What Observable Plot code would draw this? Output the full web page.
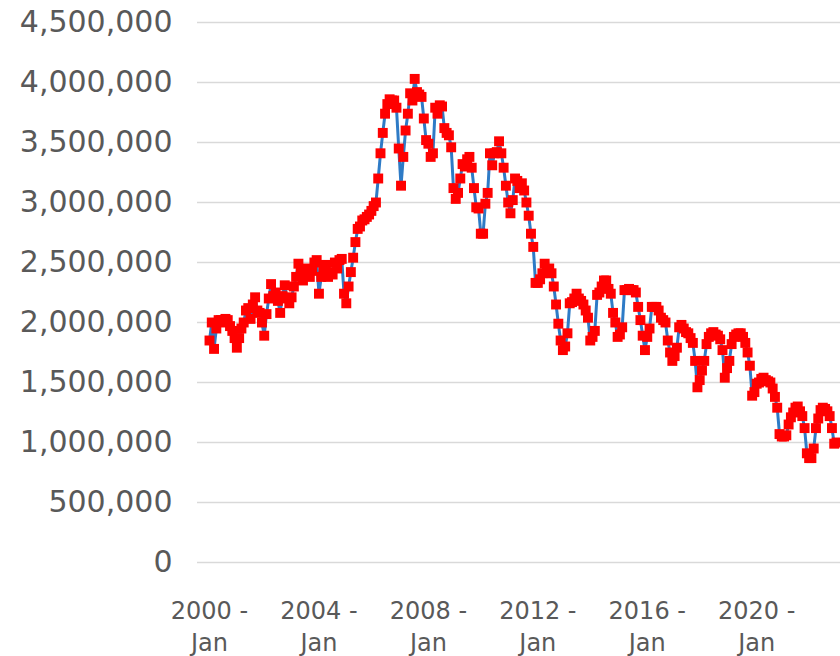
<!DOCTYPE html>
<html>
<head>
<meta charset="utf-8">
<script src="https://cdn.jsdelivr.net/npm/d3@7"></script>
<script src="https://cdn.jsdelivr.net/npm/@observablehq/plot@0.6"></script>
<style>
  html, body { margin: 0; padding: 0; background: #ffffff; }
</style>
</head>
<body>
<div id="chart"></div>
<script>
const startYear = 2000;
const xTickMonths = [0, 48, 96, 144, 192, 240];
const xTickMonthName = "Jan";
const yTicks = [0, 500000, 1000000, 1500000, 2000000, 2500000, 3000000, 3500000, 4000000, 4500000];

// Monthly values, Jan 2000 .. Dec 2022
const values = [
  // 2000
  1850000, 2000000, 1780000, 1950000, 2020000, 2020000, 2000000, 2030000, 2020000, 1970000, 1930000, 1870000,
  // 2001
  1790000, 1870000, 1950000, 2000000, 2100000, 2120000, 2030000, 2150000, 2210000, 2100000, 2080000, 2000000,
  // 2002
  1890000, 2070000, 2200000, 2320000, 2220000, 2250000, 2180000, 2080000, 2220000, 2310000, 2200000, 2160000,
  // 2003
  2210000, 2300000, 2380000, 2490000, 2420000, 2350000, 2400000, 2450000, 2380000, 2430000, 2500000, 2520000,
  // 2004
  2240000, 2380000, 2450000, 2480000, 2380000, 2420000, 2400000, 2500000, 2450000, 2520000, 2530000, 2240000,
  // 2005
  2160000, 2300000, 2420000, 2540000, 2670000, 2780000, 2800000, 2850000, 2860000, 2880000, 2900000, 2930000,
  // 2006
  2970000, 3000000, 3200000, 3410000, 3580000, 3740000, 3820000, 3860000, 3850000, 3850000, 3790000, 3450000,
  // 2007
  3140000, 3380000, 3600000, 3740000, 3910000, 3850000, 4030000, 3920000, 3900000, 3880000, 3700000, 3520000,
  // 2008
  3490000, 3380000, 3410000, 3790000, 3740000, 3810000, 3800000, 3620000, 3580000, 3560000, 3460000, 3120000,
  // 2009
  3030000, 3080000, 3200000, 3320000, 3300000, 3360000, 3380000, 3290000, 3120000, 2960000, 2950000, 2740000,
  // 2010
  2740000, 2990000, 3080000, 3410000, 3310000, 3410000, 3420000, 3510000, 3410000, 3290000, 3140000, 3000000,
  // 2011
  2910000, 3020000, 3200000, 3180000, 3120000, 3160000, 3100000, 3000000, 2890000, 2740000, 2630000, 2330000,
  // 2012
  2330000, 2360000, 2410000, 2490000, 2430000, 2450000, 2410000, 2300000, 2150000, 1990000, 1850000, 1770000,
  // 2013
  1800000, 1910000, 2160000, 2170000, 2200000, 2240000, 2200000, 2180000, 2150000, 2100000, 2040000, 1850000,
  // 2014
  1880000, 1930000, 2230000, 2250000, 2300000, 2350000, 2350000, 2280000, 2240000, 2080000, 2000000, 1880000,
  // 2015
  1900000, 1960000, 2270000, 2270000, 2280000, 2270000, 2270000, 2250000, 2130000, 2020000, 1890000, 1770000,
  // 2016
  1880000, 1950000, 2130000, 2130000, 2130000, 2100000, 2040000, 2020000, 2000000, 1850000, 1750000, 1680000,
  // 2017
  1720000, 1790000, 1960000, 1980000, 1950000, 1920000, 1910000, 1870000, 1830000, 1680000, 1460000, 1520000,
  // 2018
  1600000, 1680000, 1820000, 1880000, 1910000, 1920000, 1900000, 1890000, 1860000, 1770000, 1540000, 1620000,
  // 2019
  1680000, 1820000, 1880000, 1900000, 1910000, 1910000, 1880000, 1830000, 1750000, 1640000, 1390000, 1420000,
  // 2020
  1490000, 1500000, 1530000, 1540000, 1520000, 1510000, 1500000, 1450000, 1380000, 1290000, 1070000, 1050000,
  // 2021
  1050000, 1060000, 1150000, 1210000, 1250000, 1290000, 1300000, 1260000, 1220000, 1120000, 910000, 870000,
  // 2022
  870000, 950000, 1120000, 1200000, 1270000, 1290000, 1280000, 1260000, 1220000, 1120000, 990000, 1000000
];

const data = values.map((v, i) => ({ month: i, value: v }));

const textColor = "#595959";

const chart = Plot.plot({
  width: 840,
  height: 656,
  marginLeft: 197,
  marginRight: 0,
  marginTop: 22,
  marginBottom: 94,
  style: { fontFamily: "DejaVu Sans", background: "#ffffff", overflow: "hidden" },
  x: { type: "linear", domain: [0, values.length - 1], range: [209, 836], label: null },
  y: { domain: [0, 4500000], label: null },
  marks: [
    Plot.ruleY(yTicks, { stroke: "#d9d9d9", strokeWidth: 1.5 }),
    Plot.axisY({
      ticks: yTicks, tickSize: 0, tickPadding: 25,
      tickFormat: d3.format(","), fontSize: 30, fill: textColor, label: null
    }),
    Plot.axisX({
      ticks: xTickMonths, tickSize: 0, tickPadding: 34,
      tickFormat: m => `${startYear + m / 12} -\n${xTickMonthName}`,
      fontSize: 24, lineHeight: 1.33, fill: textColor, label: null
    }),
    Plot.line(data, { x: "month", y: "value", stroke: "#2e7bc6", strokeWidth: 3 }),
    Plot.dot(data, { x: "month", y: "value", symbol: "square", r: 5.6, fill: "#ff0000", stroke: "none" })
  ]
});

document.getElementById("chart").appendChild(chart);
</script>
</body>
</html>
